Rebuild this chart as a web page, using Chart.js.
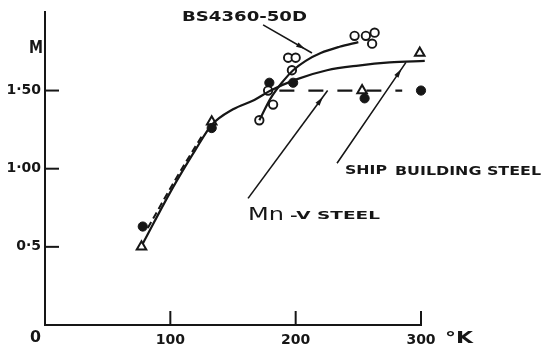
<!DOCTYPE html>
<html>
<head>
<meta charset="utf-8">
<script src="https://cdn.jsdelivr.net/npm/chart.js@4.4.1/dist/chart.umd.min.js"></script>
<style>
  body { margin: 0; background: #fff; }
  canvas { display: block; }
</style>
</head>
<body>
<canvas id="chart" width="541" height="355"></canvas>
<script>
// Axis ticks
const xTicks = [100, 200, 300];
const xTickLabels = ['100', '200', '300'];
const yTicks = [0.5, 1.0, 1.5];
const yTickLabels = ['0·5', '1·00', '1·50'];

// Measured points (temperature K, M)
const triX = [77, 133, 253, 299];
const triY = [0.50, 1.30, 1.50, 1.74];
const dotX = [78, 133, 179, 198, 255, 300];
const dotY = [0.63, 1.26, 1.55, 1.55, 1.45, 1.50];
const ringX = [171, 178, 182, 194, 197, 200, 247, 256, 263, 261];
const ringY = [1.31, 1.50, 1.41, 1.71, 1.63, 1.71, 1.85, 1.85, 1.87, 1.80];

// Hand drawn curves
const bsCurveX = [171, 180, 190, 198, 208, 220, 235, 250];
const bsCurveY = [1.31, 1.45, 1.56, 1.63, 1.69, 1.74, 1.78, 1.81];
const lowCurveX = [78, 100, 120, 133, 150, 167, 180, 200, 225, 250, 275, 303];
const lowCurveY = [0.52, 0.85, 1.12, 1.28, 1.38, 1.44, 1.50, 1.57, 1.63, 1.66, 1.68, 1.69];
const leftDashX = [82, 104, 126];
const leftDashY = [0.62, 0.93, 1.22];
const mnvLineX = [187, 285];
const mnvLineY = [1.50, 1.50];

// Leader lines
const bsLeaderX = [174, 213];
const bsLeaderY = [1.92, 1.74];
const shipLeaderX = [233, 288];
const shipLeaderY = [1.035, 1.68];
const mnvLeaderX = [162, 225.5];
const mnvLeaderY = [0.81, 1.50];

const INK = '#161616';

function pts(xs, ys){
    return xs.map((x, i) => ({x: x, y: ys[i]}));
}

function curve(xs, ys, dash, width){
    return {data: pts(xs, ys), showLine: true, pointRadius: 0, borderColor: INK,
        borderWidth: width || 2, borderDash: dash || [], cubicInterpolationMode: 'monotone', clip: false};
}

// text helper: squeeze/stretch text to a given width
function fitText(ctx, text, x, y, w, font){
    ctx.save();
    ctx.font = font;
    const m = ctx.measureText(text).width;
    ctx.translate(x, y);
    ctx.scale(w / m, 1);
    ctx.textAlign = 'left';
    ctx.textBaseline = 'middle';
    ctx.fillText(text, 0, 0);
    ctx.restore();
}

const decor = {
    id: 'decor',
    afterDatasetsDraw(chart){
        const ctx = chart.ctx;
        const xs = chart.scales.x, ys = chart.scales.y;
        ctx.save();
        ctx.strokeStyle = INK;
        ctx.fillStyle = INK;
        ctx.lineWidth = 2;
        // inward tick marks
        yTicks.forEach(v => {
            const py = ys.getPixelForValue(v);
            ctx.beginPath(); ctx.moveTo(xs.left, py); ctx.lineTo(xs.left + 14, py); ctx.stroke();
        });
        xTicks.forEach(v => {
            const px = xs.getPixelForValue(v);
            ctx.beginPath(); ctx.moveTo(px, ys.bottom); ctx.lineTo(px, ys.bottom - 14); ctx.stroke();
        });
        // arrowheads on leaders
        [[bsLeaderX, bsLeaderY], [shipLeaderX, shipLeaderY], [mnvLeaderX, mnvLeaderY]].forEach(([lx, ly]) => {
            const x0 = xs.getPixelForValue(lx[0]), y0 = ys.getPixelForValue(ly[0]);
            const x1 = xs.getPixelForValue(lx[1]), y1 = ys.getPixelForValue(ly[1]);
            const a = Math.atan2(y1 - y0, x1 - x0);
            const tx = x1 - Math.cos(a) * 8, ty = y1 - Math.sin(a) * 8;
            ctx.beginPath();
            ctx.moveTo(tx, ty);
            ctx.lineTo(tx - Math.cos(a) * 9 + Math.sin(a) * 2.5, ty - Math.sin(a) * 9 - Math.cos(a) * 2.5);
            ctx.lineTo(tx - Math.cos(a) * 9 - Math.sin(a) * 2.5, ty - Math.sin(a) * 9 + Math.cos(a) * 2.5);
            ctx.closePath();
            ctx.fill();
        });
        // labels
        fitText(ctx, 'M', 29, 49, 14, 'bold 17px "DejaVu Sans"');
        fitText(ctx, '0', 30, 338, 11, 'bold 15px "DejaVu Sans"');
        fitText(ctx, '°K', 445, 339, 28, 'bold 15px "DejaVu Sans"');
        fitText(ctx, 'BS4360-50D', 182, 17, 125, 'bold 14px "DejaVu Sans"');
        fitText(ctx, 'SHIP', 345, 171, 42, 'bold 13px "DejaVu Sans"');
        fitText(ctx, 'BUILDING STEEL', 395, 172, 146, 'bold 12px "DejaVu Sans"');
        fitText(ctx, 'Mn', 248, 215, 36, '18px "DejaVu Sans"');
        fitText(ctx, '-V STEEL', 290, 216, 90, 'bold 11px "DejaVu Sans"');
        ctx.restore();
    }
};

new Chart(document.getElementById('chart'), {
    type: 'scatter',
    data: {
        datasets: [
            curve(bsCurveX, bsCurveY, [], 2.2),
            curve(lowCurveX, lowCurveY, [], 2.2),
            curve(leftDashX, leftDashY, [7, 4], 2),
            curve(mnvLineX, mnvLineY, [15, 14], 2.2),
            curve(bsLeaderX, bsLeaderY, [], 1.6),
            curve(shipLeaderX, shipLeaderY, [], 1.6),
            curve(mnvLeaderX, mnvLeaderY, [], 1.6),
            {data: pts(ringX, ringY), pointStyle: 'circle', pointRadius: 4.2, backgroundColor: '#fff',
                borderColor: INK, borderWidth: 1.9, clip: false},
            {data: pts(dotX, dotY), pointStyle: 'circle', pointRadius: 4.6, backgroundColor: INK,
                borderColor: INK, borderWidth: 1, clip: false},
            {data: pts(triX, triY), pointStyle: 'triangle', pointRadius: 5.5, backgroundColor: '#fff',
                borderColor: INK, borderWidth: 2, clip: false}
        ]
    },
    options: {
        responsive: false,
        animation: false,
        layout: {padding: {left: 0, right: 120, top: 12, bottom: 0}},
        plugins: {legend: {display: false}, tooltip: {enabled: false}},
        scales: {
            x: {
                min: 0, max: 300,
                grid: {display: false, drawTicks: false},
                border: {display: true, color: INK, width: 2},
                afterBuildTicks: s => { s.ticks = xTicks.map(v => ({value: v})); },
                afterFit: s => { s.height = 30; },
                ticks: {
                    padding: 7, color: INK, maxRotation: 0,
                    font: {family: 'DejaVu Sans', size: 14, weight: 'bold'},
                    callback: v => xTickLabels[xTicks.indexOf(v)]
                }
            },
            y: {
                min: 0, max: 2,
                grid: {display: false, drawTicks: false},
                border: {display: true, color: INK, width: 2},
                afterBuildTicks: s => { s.ticks = yTicks.map(v => ({value: v})); },
                afterFit: s => { s.width = 45; },
                ticks: {
                    padding: 4, color: INK,
                    font: {family: 'DejaVu Sans', size: 14, weight: 'bold'},
                    callback: v => yTickLabels[yTicks.indexOf(v)]
                }
            }
        }
    },
    plugins: [decor]
});
</script>
</body>
</html>
